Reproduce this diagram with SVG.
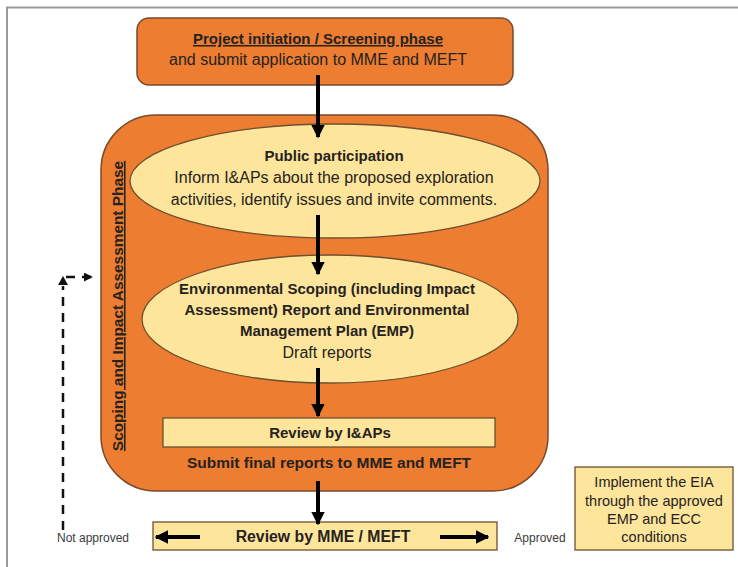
<svg xmlns="http://www.w3.org/2000/svg" width="738" height="567" viewBox="0 0 738 567">
<defs>
<style>
text{font-family:"Liberation Sans","Open Sans",Arial,sans-serif;fill:#262220;text-anchor:middle;}
.r{font-size:16px;}
.bb{font-size:15px;font-weight:bold;}
.s{font-size:12px;fill:#3a3a3a;}
.orange{fill:#EC7D31;stroke:#7a4a2c;stroke-width:1.5;}
.yel{fill:#FDE69C;stroke:#6e5030;stroke-width:1.3;}
.conn{stroke:#000;stroke-width:4;fill:none;}
.dash{stroke:#111;stroke-width:2.5;fill:none;stroke-dasharray:9,7;}
</style>
<marker id="ah" viewBox="0 0 10 10" refX="9" refY="5" markerWidth="3.4" markerHeight="3.4" orient="auto" markerUnits="strokeWidth">
<path d="M0,0 L10,5 L0,10 Z" fill="#000"/>
</marker>
<marker id="ahs" viewBox="0 0 10 10" refX="9" refY="5" markerWidth="3.6" markerHeight="3.6" orient="auto" markerUnits="strokeWidth">
<path d="M0,0 L10,5 L0,10 Z" fill="#111"/>
</marker>
</defs>
<rect x="0" y="0" width="738" height="567" fill="#fff"/>
<path d="M7,567 L7,7.5 L738,7.5" fill="none" stroke="#9a9a9a" stroke-width="2"/>

<g id="scoping-phase">
<rect class="orange" x="101" y="115" width="447" height="376" rx="55" ry="55"/>
<text class="bb" transform="translate(123,306) rotate(-90)" text-decoration="underline" style="font-size:15.4px">Scoping and Impact Assessment Phase</text>
</g>

<g id="project-initiation">
<rect class="orange" x="137" y="18" width="376" height="67" rx="12" ry="12"/>
<text class="bb" x="318" y="44" text-decoration="underline">Project initiation / Screening phase</text>
<text class="r" x="318" y="65">and submit application to MME and MEFT</text>
</g>

<g id="public-participation">
<ellipse class="yel" cx="335" cy="181" rx="205" ry="57"/>
<text class="bb" x="334" y="161">Public participation</text>
<text class="r" x="334" y="183">Inform I&amp;APs about the proposed exploration</text>
<text class="r" x="334" y="205">activities, identify issues and invite comments.</text>
</g>

<g id="environmental-scoping">
<ellipse class="yel" cx="330" cy="319" rx="188" ry="64"/>
<text class="bb" x="327" y="294">Environmental Scoping (including Impact</text>
<text class="bb" x="327" y="315">Assessment) Report and Environmental</text>
<text class="bb" x="327" y="336">Management Plan (EMP)</text>
<text class="r" x="327" y="358">Draft reports</text>
</g>

<g id="review-iaps">
<rect class="yel" x="163" y="418" width="332" height="29"/>
<text class="bb" x="330" y="438">Review by I&amp;APs</text>
</g>

<g id="submit-final">
<text class="bb" x="329" y="468" style="font-size:15.5px">Submit final reports to MME and MEFT</text>
</g>

<g id="review-mme">
<rect class="yel" x="153" y="522" width="344" height="28"/>
<text class="bb" x="323" y="542" style="font-size:15.8px">Review by MME / MEFT</text>
</g>

<g id="implement">
<rect class="yel" x="575" y="467" width="158" height="83"/>
<text class="r" x="654" y="487" style="font-size:14.5px">Implement the EIA</text>
<text class="r" x="654" y="506" style="font-size:14.5px">through the approved</text>
<text class="r" x="654" y="524" style="font-size:14.5px">EMP and ECC</text>
<text class="r" x="654" y="542" style="font-size:14.5px">conditions</text>
</g>

<g id="labels">
<text class="s" x="93" y="542">Not approved</text>
<text class="s" x="540" y="542">Approved</text>
</g>

<g id="connectors">
<line class="conn" x1="318" y1="75" x2="318" y2="137" marker-end="url(#ah)"/>
<line class="conn" x1="318" y1="215" x2="318" y2="274" marker-end="url(#ah)"/>
<line class="conn" x1="318" y1="368" x2="318" y2="416" marker-end="url(#ah)"/>
<line class="conn" x1="318" y1="481" x2="318" y2="524" marker-end="url(#ah)"/>
<line class="conn" x1="200" y1="537" x2="156" y2="537" marker-end="url(#ah)"/>
<line class="conn" x1="440" y1="537" x2="488" y2="537" marker-end="url(#ah)"/>
<path class="dash" d="M63,530 L63,286"/>
<path d="M58,285 L63,276 L68,285 Z" fill="#111"/>
<path class="dash" d="M66,277 L92,277" stroke-dasharray="7,6" marker-end="url(#ahs)"/>
</g>
</svg>
